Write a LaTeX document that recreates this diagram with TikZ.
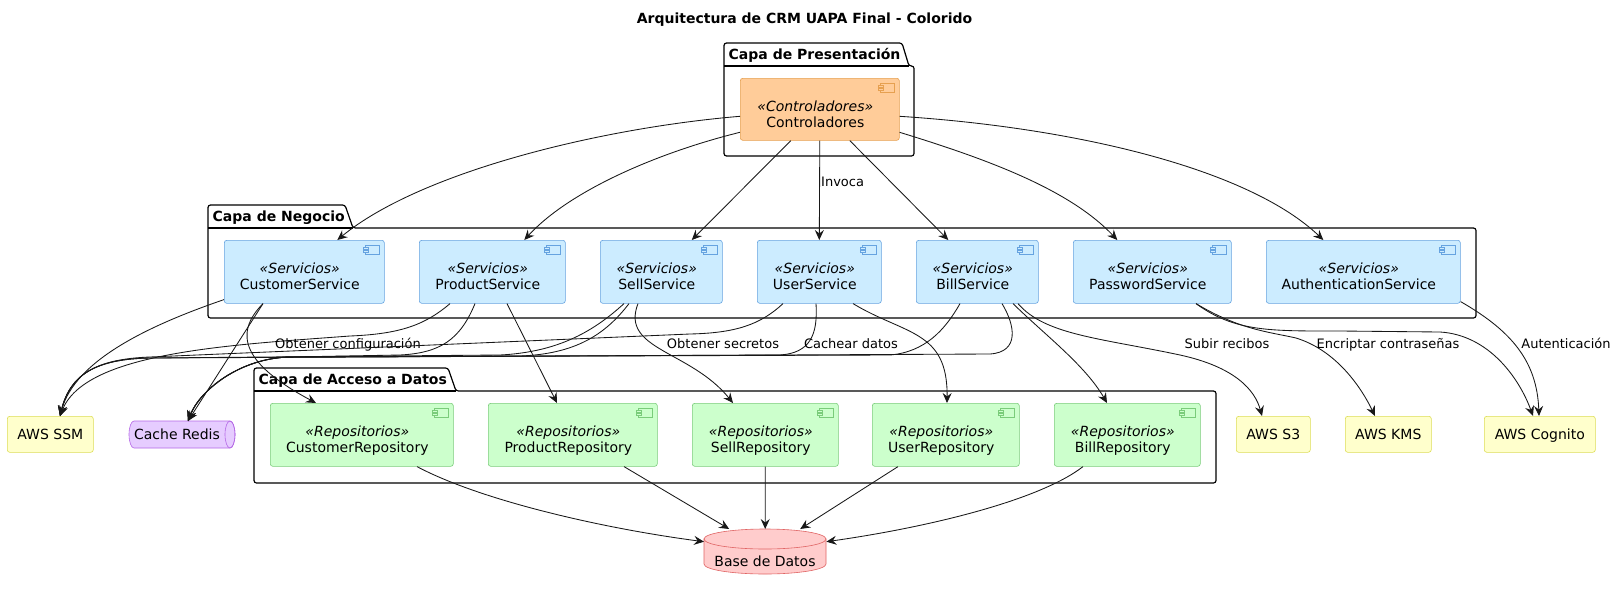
\documentclass[tikz,border=0pt]{standalone}
\usepackage{fontspec}
\setmainfont{DejaVu Sans}
\usetikzlibrary{arrows.meta}
\definecolor{ctlfill}{HTML}{FFCC99}\definecolor{ctlline}{HTML}{E6A050}
\definecolor{svcfill}{HTML}{CCECFF}\definecolor{svcline}{HTML}{66A3E0}
\definecolor{repofill}{HTML}{CCFFCC}\definecolor{repoline}{HTML}{7ACC7A}
\definecolor{awsfill}{HTML}{FFFFCC}\definecolor{awsline}{HTML}{DDDD55}
\definecolor{redisfill}{HTML}{E6CCFF}\definecolor{redisline}{HTML}{B466E6}
\definecolor{dbfill}{HTML}{FFCCCC}\definecolor{dbline}{HTML}{E06464}
\definecolor{edgecol}{HTML}{181818}
\tikzset{
  box/.style={draw, rounded corners=2.5pt, line width=0.6pt, inner sep=0pt, anchor=north west},
  ctlbox/.style={box, draw=ctlline, fill=ctlfill},
  svcbox/.style={box, draw=svcline, fill=svcfill},
  repobox/.style={box, draw=repoline, fill=repofill},
  awsbox/.style={box, draw=awsline, fill=awsfill, font=\fontsize{14}{16}\selectfont, text height=10.2pt, text depth=0pt},
  txt/.style={font=\fontsize{14}{16}\selectfont, inner sep=0pt, anchor=base},
  conn/.style={draw=edgecol, line width=0.85pt, -{Stealth[length=10pt,width=9pt,inset=3.5pt]}},
  elabel/.style={font=\fontsize{13}{15}\selectfont, inner sep=0pt, anchor=base},
  pkg/.style={draw=black, line width=1.2pt, fill=white, rounded corners=2.5pt},
  pkgtitle/.style={font=\bfseries\fontsize{14}{16}\selectfont, inner sep=0pt, anchor=base west},
  ghost/.style={draw=none, inner sep=0pt, anchor=north west},
}
\newcommand\mkcomp[8]{%
  \node[#6box, minimum width=#4pt, minimum height=#5pt] (#1) at (#2,#3) {};
  \node[txt] (#1s) at ([xshift=-4.5pt,yshift=-33pt]#1.north) {\textit{«#7»}};
  \node[txt] (#1n) at ([xshift=-4.5pt,yshift=-49pt]#1.north) {#8};
  \draw[#6line, fill=#6fill, line width=0.6pt] ([xshift=-19pt,yshift=-5pt]#1.north east) rectangle ([xshift=-5pt,yshift=-14pt]#1.north east);
  \draw[#6line, fill=#6fill, line width=0.6pt] ([xshift=-21.5pt,yshift=-6.8pt]#1.north east) rectangle ([xshift=-16.5pt,yshift=-9.2pt]#1.north east);
  \draw[#6line, fill=#6fill, line width=0.6pt] ([xshift=-21.5pt,yshift=-10.3pt]#1.north east) rectangle ([xshift=-16.5pt,yshift=-12.7pt]#1.north east);
}
\begin{document}
\begin{tikzpicture}[x=1pt,y=-1pt]
\useasboundingbox[fill=white] (0,0) rectangle (1618,590);
% title
\node[font=\bfseries\fontsize{14}{16}\selectfont, inner sep=0pt, anchor=base] (title) at (804.5,23) {Arquitectura de CRM UAPA Final - Colorido};
% packages
\draw[pkg] (724,66) -- (724,43) -- (902,43) -- (909,66) -- (914,66) -- (914,156) -- (724,156) -- cycle;
\draw[line width=1.2pt] (724,66) -- (909,66);
\node[pkgtitle] (pk1) at (728.5,59) {Capa de Presentación};
\draw[pkg] (208,228) -- (208,205) -- (345,205) -- (353,228) -- (1476,228) -- (1476,318) -- (208,318) -- cycle;
\draw[line width=1.2pt] (208,228) -- (353,228);
\node[pkgtitle] (pk2) at (212.5,221) {Capa de Negocio};
\draw[pkg] (254,391) -- (254,368) -- (448,368) -- (456,391) -- (1216,391) -- (1216,483) -- (254,483) -- cycle;
\draw[line width=1.2pt] (254,391) -- (456,391);
\node[pkgtitle] (pk3) at (258.5,384) {Capa de Acceso a Datos};
% components
\mkcomp{ctl}{740}{78}{159}{62}{ctl}{Controladores}{Controladores}
\mkcomp{cs}{224}{240}{160}{63}{svc}{Servicios}{CustomerService}
\mkcomp{ps}{419}{240}{146}{63}{svc}{Servicios}{ProductService}
\mkcomp{ss}{600}{240}{122}{63}{svc}{Servicios}{SellService}
\mkcomp{us}{757}{240}{124}{63}{svc}{Servicios}{UserService}
\mkcomp{bs}{916}{240}{122}{63}{svc}{Servicios}{BillService}
\mkcomp{pw}{1073}{240}{158}{63}{svc}{Servicios}{PasswordService}
\mkcomp{as}{1266}{240}{194}{63}{svc}{Servicios}{AuthenticationService}
\mkcomp{cr}{270}{403}{183}{63}{repo}{Repositorios}{CustomerRepository}
\mkcomp{pr}{488}{403}{169}{63}{repo}{Repositorios}{ProductRepository}
\mkcomp{sr}{692}{403}{146}{63}{repo}{Repositorios}{SellRepository}
\mkcomp{ur}{872}{403}{147}{63}{repo}{Repositorios}{UserRepository}
\mkcomp{br}{1054}{403}{146}{63}{repo}{Repositorios}{BillRepository}
% external
\node[awsbox, minimum width=86pt, minimum height=36pt] (ssm) at (7,416) {AWS SSM};
\node[awsbox, minimum width=74pt, minimum height=36pt] (s3) at (1236,416) {AWS S3};
\node[awsbox, minimum width=86pt, minimum height=36pt] (kms) at (1345,416) {AWS KMS};
\node[awsbox, minimum width=111pt, minimum height=36pt] (cog) at (1484,416) {AWS Cognito};
% redis (horizontal cylinder)
\node[ghost, minimum width=106pt, minimum height=27pt] (redis) at (129,421) {};
\draw[redisline, fill=redisfill, line width=0.6pt] (134,421) -- (230,421) .. controls (232.76,421) and (235,427.04) .. (235,434.5) .. controls (235,441.96) and (232.76,448) .. (230,448) -- (134,448) .. controls (131.24,448) and (129,441.96) .. (129,434.5) .. controls (129,427.04) and (131.24,421) .. (134,421) -- cycle;
\draw[redisline, line width=0.6pt] (230,434.5) ellipse [x radius=5, y radius=13.5];
\node[txt] (redist) at (177,439.5) {Cache Redis};
% database
\node[ghost, minimum width=122pt, minimum height=45pt] (db) at (704,529) {};
\draw[dbline, fill=dbfill, line width=0.6pt] (704,539) -- (704,564) .. controls (704,569.52) and (731.31,574) .. (765,574) .. controls (798.69,574) and (826,569.52) .. (826,564) -- (826,539) -- cycle;
\draw[dbline, fill=dbfill, line width=0.6pt] (765,539) ellipse [x radius=61, y radius=10];
\node[txt] (dbt) at (765,566) {Base de Datos};
% controller -> services
\draw[conn] ([yshift=-7pt]ctl.west) .. controls (600,128) and (420,172) .. ([xshift=33pt]cs.north);
\draw[conn] ([yshift=-23pt]ctl.west) .. controls (660,152) and (570,190) .. ([xshift=32pt]ps.north);
\draw[conn] ([xshift=-29pt]ctl.south) -- ([xshift=30.5pt]ss.north);
\draw[conn] (ctl.south) -- (us.north);
\node[elabel, anchor=base west] (linv) at (821,186.5) {Invoca};
\draw[conn] ([xshift=30pt]ctl.south) -- ([xshift=-29pt]bs.north);
\draw[conn] ([yshift=-23pt]ctl.east) .. controls (990,160) and (1070,190) .. ([xshift=-35pt]pw.north);
\draw[conn] ([yshift=-7pt]ctl.east) .. controls (1080,128) and (1250,170) .. ([xshift=-40pt]as.north);
% customer
\draw[conn] ([yshift=4pt]cs.south west) .. controls (150,325) and (75,360) .. ([xshift=53pt]ssm.north west);
\draw[conn] ([xshift=39pt]cs.south west) -- ([xshift=59pt]redis.north west);
\draw[conn] ([xshift=39pt]cs.south west) .. controls (232,335) and (245,365) .. ([xshift=46pt]cr.north west);
% product
\draw[conn] ([xshift=31pt]ps.south west) .. controls (425,325) and (400,334) .. (350,336) .. controls (230,345) and (85,352) .. ([xshift=53pt]ssm.north west);
\node[elabel] (lconf) at (348,348.5) {Obtener configuración};
\draw[conn] ([xshift=56pt]ps.south west) .. controls (460,340) and (440,353) .. (400,355) -- (290,357) .. controls (240,358) and (200,390) .. ([xshift=59pt]redis.north west);
\draw[conn] ([xshift=88pt]ps.south west) -- ([xshift=69pt]pr.north west);
% sell
\draw[conn] ([xshift=24pt]ss.south west) .. controls (595,330) and (560,352) .. (500,355) -- (150,358) .. controls (95,359) and (70,375) .. ([xshift=53pt]ssm.north west);
\draw[conn] ([xshift=29pt]ss.south west) .. controls (605,335) and (575,354) .. (520,356) -- (290,357) .. controls (240,358) and (200,390) .. ([xshift=59pt]redis.north west);
\draw[conn] ([xshift=38pt]ss.south west) .. controls (620,350) and (690,350) .. ([xshift=41pt]sr.north west);
% user
\draw[conn] ([xshift=26pt]us.south west) .. controls (760,325) and (735,333) .. (690,334) -- (150,357) .. controls (95,359) and (70,375) .. ([xshift=53pt]ssm.north west);
\node[elabel] (lsec) at (723,348.5) {Obtener secretos};
\draw[conn] ([xshift=59pt]us.south west) .. controls (818,335) and (810,353) .. (780,355) -- (290,357) .. controls (240,358) and (200,390) .. ([xshift=59pt]redis.north west);
\node[elabel] (lcache) at (851,348.5) {Cachear datos};
\draw[conn] ([xshift=96pt]us.south west) .. controls (905,335) and (948,330) .. ([xshift=75pt]ur.north west);
% bill
\draw[conn] ([xshift=44pt]bs.south west) .. controls (945,330) and (925,352) .. (890,355) -- (290,357) .. controls (240,358) and (200,390) .. ([xshift=59pt]redis.north west);
\draw[conn] ([xshift=86pt]bs.south west) .. controls (1015,325) and (1020,352) .. (990,354) -- (150,358) .. controls (95,359) and (70,375) .. ([xshift=53pt]ssm.north west);
\draw[conn] ([xshift=97pt]bs.south west) .. controls (1045,335) and (1085,365) .. ([xshift=53pt]br.north west);
\draw[conn] ([xshift=102pt]bs.south west) .. controls (1045,335) and (1100,338) .. (1180,355) .. controls (1235,367) and (1255,390) .. ([xshift=26pt]s3.north west);
\node[elabel] (ls3) at (1227,348.5) {Subir recibos};
% password / auth
\draw[conn] ([xshift=123pt]pw.south west) .. controls (1240,330) and (1270,332) .. (1296,338) .. controls (1335,350) and (1360,385) .. ([xshift=30pt]kms.north west);
\node[elabel] (lkms) at (1388,348.5) {Encriptar contraseñas};
\draw[conn] ([xshift=123pt]pw.south west) .. controls (1235,332) and (1270,331) .. (1340,331) -- (1440,332) .. controls (1490,335) and (1520,380) .. ([xshift=49pt]cog.north west);
\draw[conn] ([yshift=2pt]as.south east) .. controls (1510,330) and (1537,360) .. ([xshift=55pt]cog.north west);
\node[elabel] (lauth) at (1566,348.5) {Autenticación};
% repos -> db
\draw[conn] ([xshift=147pt]cr.south west) .. controls (480,500) and (600,528) .. ([yshift=-12.7pt]db.north west);
\draw[conn] ([xshift=136pt]pr.south west) -- ([xshift=-36pt]db.north);
\draw[conn] (sr.south) -- (db.north);
\draw[conn] ([xshift=26pt]ur.south west) -- ([xshift=35pt]db.north);
\draw[conn] ([xshift=29pt]br.south west) .. controls (1040,500) and (930,527) .. ([yshift=-12.7pt]db.north east);
\end{tikzpicture}
\end{document}
